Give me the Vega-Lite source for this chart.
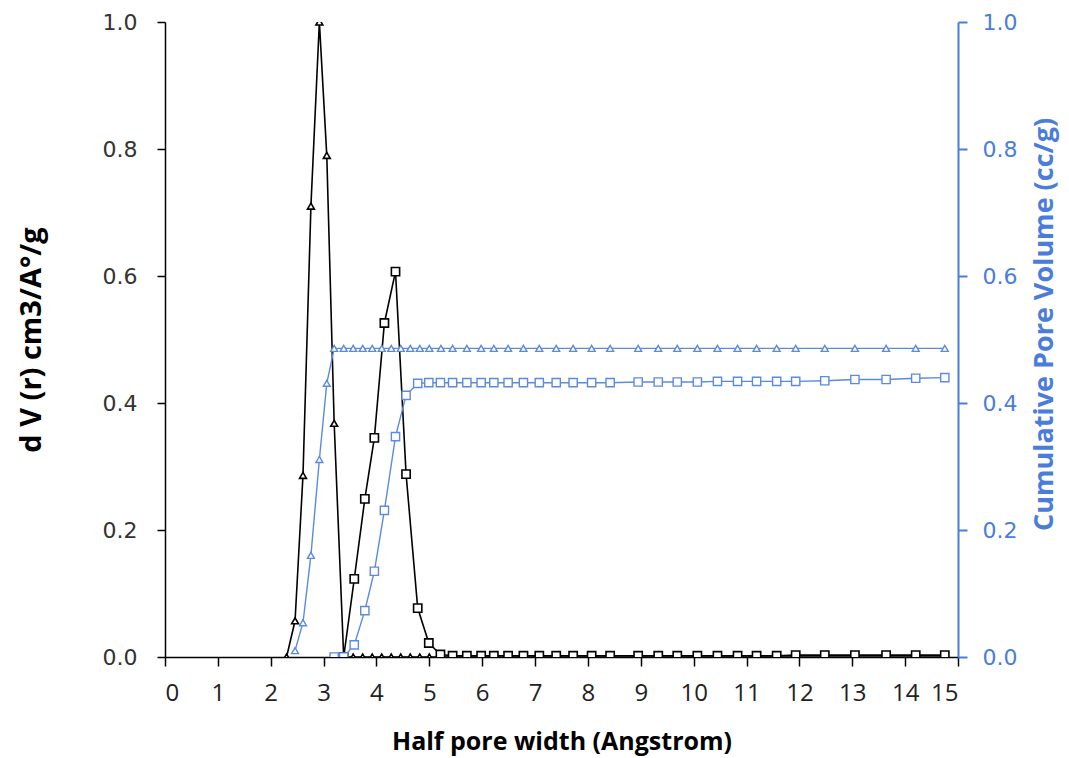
{
  "$schema": "https://vega.github.io/schema/vega-lite/v6.json",
  "width": 793,
  "height": 635,
  "autosize": {"type": "none"},
  "padding": {"left": 165, "top": 22, "right": 111, "bottom": 101},
  "background": "white",
  "config": {"view": {"stroke": null}, "axis": {"grid": false}},
  "data": {
    "values": [
      {"x": 2.30, "s": "T", "dv": 0.0, "cum": null},
      {"x": 2.46, "s": "T", "dv": 0.057, "cum": 0.01},
      {"x": 2.61, "s": "T", "dv": 0.286, "cum": 0.054},
      {"x": 2.76, "s": "T", "dv": 0.71, "cum": 0.16},
      {"x": 2.92, "s": "T", "dv": 1.0, "cum": 0.311},
      {"x": 3.06, "s": "T", "dv": 0.79, "cum": 0.431},
      {"x": 3.20, "s": "T", "dv": 0.368, "cum": 0.486},
      {"x": 3.38, "s": "T", "dv": 0.0, "cum": 0.486},
      {"x": 3.56, "s": "T", "dv": 0.0, "cum": 0.486},
      {"x": 3.74, "s": "T", "dv": 0.0, "cum": 0.486},
      {"x": 3.92, "s": "T", "dv": 0.0, "cum": 0.486},
      {"x": 4.10, "s": "T", "dv": 0.0, "cum": 0.486},
      {"x": 4.28, "s": "T", "dv": 0.0, "cum": 0.486},
      {"x": 4.46, "s": "T", "dv": 0.0, "cum": 0.486},
      {"x": 4.64, "s": "T", "dv": 0.0, "cum": 0.486},
      {"x": 4.82, "s": "T", "dv": 0.0, "cum": 0.486},
      {"x": 5.00, "s": "T", "dv": 0.0, "cum": 0.486},
      {"x": 5.22, "s": "T", "dv": 0.0, "cum": 0.486},
      {"x": 5.44, "s": "T", "dv": 0.0, "cum": 0.486},
      {"x": 5.71, "s": "T", "dv": 0.0, "cum": 0.486},
      {"x": 5.98, "s": "T", "dv": 0.0, "cum": 0.486},
      {"x": 6.22, "s": "T", "dv": 0.0, "cum": 0.486},
      {"x": 6.49, "s": "T", "dv": 0.0, "cum": 0.486},
      {"x": 6.78, "s": "T", "dv": 0.0, "cum": 0.486},
      {"x": 7.08, "s": "T", "dv": 0.0, "cum": 0.486},
      {"x": 7.40, "s": "T", "dv": 0.0, "cum": 0.486},
      {"x": 7.72, "s": "T", "dv": 0.0, "cum": 0.486},
      {"x": 8.07, "s": "T", "dv": 0.0, "cum": 0.486},
      {"x": 8.42, "s": "T", "dv": 0.0, "cum": 0.486},
      {"x": 8.95, "s": "T", "dv": 0.0, "cum": 0.486},
      {"x": 9.33, "s": "T", "dv": 0.0, "cum": 0.486},
      {"x": 9.69, "s": "T", "dv": 0.0, "cum": 0.486},
      {"x": 10.07, "s": "T", "dv": 0.0, "cum": 0.486},
      {"x": 10.45, "s": "T", "dv": 0.0, "cum": 0.486},
      {"x": 10.83, "s": "T", "dv": 0.0, "cum": 0.486},
      {"x": 11.19, "s": "T", "dv": 0.0, "cum": 0.486},
      {"x": 11.57, "s": "T", "dv": 0.0, "cum": 0.486},
      {"x": 11.93, "s": "T", "dv": 0.0, "cum": 0.486},
      {"x": 12.48, "s": "T", "dv": 0.0, "cum": 0.486},
      {"x": 13.05, "s": "T", "dv": 0.0, "cum": 0.486},
      {"x": 13.64, "s": "T", "dv": 0.0, "cum": 0.486},
      {"x": 14.20, "s": "T", "dv": 0.0, "cum": 0.486},
      {"x": 14.75, "s": "T", "dv": 0.0, "cum": 0.486},
      {"x": 3.20, "s": "S", "dv": null, "cum": 0.0},
      {"x": 3.38, "s": "S", "dv": 0.0, "cum": 0.0},
      {"x": 3.58, "s": "S", "dv": 0.123, "cum": 0.019},
      {"x": 3.78, "s": "S", "dv": 0.249, "cum": 0.073},
      {"x": 3.96, "s": "S", "dv": 0.345, "cum": 0.135},
      {"x": 4.15, "s": "S", "dv": 0.526, "cum": 0.231},
      {"x": 4.36, "s": "S", "dv": 0.607, "cum": 0.347},
      {"x": 4.56, "s": "S", "dv": 0.288, "cum": 0.412},
      {"x": 4.78, "s": "S", "dv": 0.077, "cum": 0.431},
      {"x": 4.99, "s": "S", "dv": 0.022, "cum": 0.432},
      {"x": 5.21, "s": "S", "dv": 0.004, "cum": 0.432},
      {"x": 5.44, "s": "S", "dv": 0.002, "cum": 0.432},
      {"x": 5.71, "s": "S", "dv": 0.002, "cum": 0.432},
      {"x": 5.98, "s": "S", "dv": 0.002, "cum": 0.432},
      {"x": 6.22, "s": "S", "dv": 0.002, "cum": 0.432},
      {"x": 6.49, "s": "S", "dv": 0.002, "cum": 0.432},
      {"x": 6.78, "s": "S", "dv": 0.002, "cum": 0.432},
      {"x": 7.08, "s": "S", "dv": 0.002, "cum": 0.432},
      {"x": 7.40, "s": "S", "dv": 0.002, "cum": 0.432},
      {"x": 7.72, "s": "S", "dv": 0.002, "cum": 0.432},
      {"x": 8.07, "s": "S", "dv": 0.002, "cum": 0.432},
      {"x": 8.42, "s": "S", "dv": 0.002, "cum": 0.432},
      {"x": 8.95, "s": "S", "dv": 0.002, "cum": 0.433},
      {"x": 9.33, "s": "S", "dv": 0.002, "cum": 0.433},
      {"x": 9.69, "s": "S", "dv": 0.002, "cum": 0.433},
      {"x": 10.07, "s": "S", "dv": 0.002, "cum": 0.433},
      {"x": 10.45, "s": "S", "dv": 0.002, "cum": 0.434},
      {"x": 10.83, "s": "S", "dv": 0.002, "cum": 0.434},
      {"x": 11.19, "s": "S", "dv": 0.002, "cum": 0.434},
      {"x": 11.57, "s": "S", "dv": 0.002, "cum": 0.434},
      {"x": 11.93, "s": "S", "dv": 0.003, "cum": 0.434},
      {"x": 12.48, "s": "S", "dv": 0.003, "cum": 0.435},
      {"x": 13.05, "s": "S", "dv": 0.003, "cum": 0.437},
      {"x": 13.64, "s": "S", "dv": 0.003, "cum": 0.437},
      {"x": 14.20, "s": "S", "dv": 0.003, "cum": 0.439},
      {"x": 14.75, "s": "S", "dv": 0.003, "cum": 0.440}
    ]
  },
  "encoding": {
    "x": {
      "field": "x",
      "type": "quantitative",
      "scale": {"domain": [0, 15], "nice": false, "zero": false},
      "axis": {
        "title": "Half pore width (Angstrom)",
        "values": [0, 1, 2, 3, 4, 5, 6, 7, 8, 9, 10, 11, 12, 13, 14, 15],
        "format": "d",
        "domainColor": "black",
        "domainWidth": 1.5,
        "tickColor": "black",
        "tickWidth": 1.5,
        "tickSize": 9,
        "labelFont": "Open Sans",
        "labelFontSize": 24,
        "labelColor": "#222222",
        "labelPadding": 15,
        "titleFont": "Open Sans",
        "titleFontSize": 25,
        "titleFontWeight": "bold",
        "titleColor": "black",
        "titlePadding": 24
      }
    },
    "detail": {"field": "s", "type": "nominal"}
  },
  "layer": [
    {
      "encoding": {
        "y": {
          "field": "dv",
          "type": "quantitative",
          "scale": {"domain": [0, 1], "nice": false},
          "axis": {
            "orient": "left",
            "title": "d V (r) cm3/A°/g",
            "values": [0, 0.2, 0.4, 0.6, 0.8, 1.0],
            "format": ".1f",
            "domainColor": "black",
            "domainWidth": 1.5,
            "tickColor": "black",
            "tickWidth": 1.5,
            "tickSize": 8,
            "labelFont": "DejaVu Sans",
            "labelFontSize": 22,
            "labelColor": "#333333",
            "labelPadding": 20,
            "titleFont": "Open Sans",
            "titleFontSize": 29,
            "titleFontWeight": "bold",
            "titleColor": "black",
            "titlePadding": 56
          }
        }
      },
      "layer": [
        {"mark": {"type": "line", "color": "black", "strokeWidth": 1.6, "clip": true}},
        {
          "mark": {"type": "point", "filled": true, "fill": "white", "stroke": "black", "strokeWidth": 1.6, "opacity": 1, "clip": true},
          "encoding": {
            "shape": {"field": "s", "type": "nominal", "scale": {"domain": ["T", "S"], "range": ["triangle-up", "square"]}, "legend": null},
            "size": {"field": "s", "type": "nominal", "scale": {"domain": ["T", "S"], "range": [48, 68]}, "legend": null}
          }
        }
      ]
    },
    {
      "encoding": {
        "y": {
          "field": "cum",
          "type": "quantitative",
          "scale": {"domain": [0, 1], "nice": false},
          "axis": {
            "orient": "right",
            "title": "Cumulative Pore Volume (cc/g)",
            "values": [0, 0.2, 0.4, 0.6, 0.8, 1.0],
            "format": ".1f",
            "domainColor": "#4a7ddb",
            "domainWidth": 2,
            "tickColor": "#4a7ddb",
            "tickWidth": 2,
            "tickSize": 9,
            "labelFont": "DejaVu Sans",
            "labelFontSize": 22,
            "labelColor": "#4a7ddb",
            "labelPadding": 15,
            "titleFont": "Open Sans",
            "titleFontSize": 27,
            "titleFontWeight": "bold",
            "titleColor": "#4a7ddb",
            "titleAngle": 270,
            "titleBaseline": "top",
            "titlePadding": 15,
            "titleY": 302
          }
        }
      },
      "layer": [
        {"mark": {"type": "line", "color": "#5b8ae0", "strokeWidth": 1.4, "clip": true}},
        {
          "mark": {"type": "point", "filled": true, "fill": "white", "stroke": "#5b8ae0", "strokeWidth": 1.4, "opacity": 1, "clip": true},
          "encoding": {
            "shape": {"field": "s", "type": "nominal", "scale": {"domain": ["T", "S"], "range": ["triangle-up", "square"]}, "legend": null},
            "size": {"field": "s", "type": "nominal", "scale": {"domain": ["T", "S"], "range": [48, 68]}, "legend": null}
          }
        }
      ]
    }
  ],
  "resolve": {"scale": {"y": "independent"}}
}
